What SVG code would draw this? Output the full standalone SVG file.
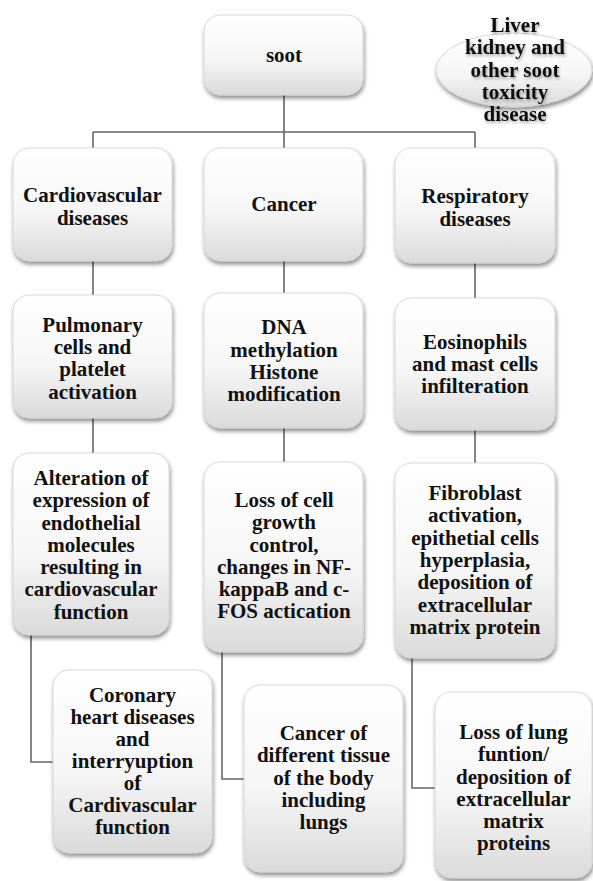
<svg xmlns="http://www.w3.org/2000/svg" width="593" height="881" viewBox="0 0 593 881">
<defs>
<linearGradient id="g" x1="0" y1="0" x2="0" y2="1">
<stop offset="0" stop-color="#ffffff"/>
<stop offset="0.55" stop-color="#f6f6f6"/>
<stop offset="1" stop-color="#dadada"/>
</linearGradient>
<filter id="sh" x="-10%" y="-10%" width="125%" height="130%">
<feDropShadow dx="1" dy="3" stdDeviation="2" flood-color="#000" flood-opacity="0.45"/>
</filter>
<filter id="tsh" x="-10%" y="-10%" width="120%" height="130%">
<feDropShadow dx="1" dy="2" stdDeviation="1.5" flood-color="#000" flood-opacity="0.35"/>
</filter>
</defs>
<style>
.box{fill:url(#g);stroke:#d2d2d2;stroke-width:0.8;filter:url(#sh)}
.t{font-family:"Liberation Serif","Times New Roman",serif;font-weight:bold;font-size:21px;fill:#111;text-anchor:middle}
.c{fill:none;stroke:#666;stroke-width:1.6}
</style>
<rect width="593" height="881" fill="#fff"/>
<g id="connectors">
<path class="c" d="M284 95V132M93 132H475M93 132V148M284 132V148M475 132V148"/>
<path class="c" d="M93 261V295M284 261V293M475 263V298"/>
<path class="c" d="M93 418V453M284 428V462M475 430V463"/>
<path class="c" d="M31 635V762H53M222 652V779H244M412 658V788H435"/>
</g>
<g id="soot">
<rect class="box" x="204" y="15" width="159" height="80" rx="16"/>
<text class="t" x="284" y="62">soot</text>
</g>
<g id="liver">
<ellipse class="box" cx="514" cy="70" rx="78" ry="37"/>
<text class="t" x="515" filter="url(#tsh)"><tspan x="515" y="32">Liver</tspan><tspan x="515" y="54">kidney and</tspan><tspan x="515" y="77">other soot</tspan><tspan x="515" y="99">toxicity</tspan><tspan x="515" y="121">disease</tspan></text>
</g>
<g id="cardio">
<rect class="box" x="13" y="148" width="159" height="113" rx="16"/>
<text class="t"><tspan x="92.5" y="202">Cardiovascular</tspan><tspan x="92.5" y="225">diseases</tspan></text>
</g>
<g id="cancer">
<rect class="box" x="204" y="148" width="159" height="113" rx="16"/>
<text class="t" x="284" y="211">Cancer</text>
</g>
<g id="resp">
<rect class="box" x="395" y="148" width="160" height="115" rx="16"/>
<text class="t"><tspan x="475" y="203">Respiratory</tspan><tspan x="475" y="226">diseases</tspan></text>
</g>
<g id="pulm">
<rect class="box" x="13" y="295" width="159" height="123" rx="16"/>
<text class="t"><tspan x="92.5" y="332">Pulmonary</tspan><tspan x="92.5" y="354">cells and</tspan><tspan x="92.5" y="376">platelet</tspan><tspan x="92.5" y="399">activation</tspan></text>
</g>
<g id="dna">
<rect class="box" x="204" y="293" width="159" height="135" rx="16"/>
<text class="t"><tspan x="284" y="334">DNA</tspan><tspan x="284" y="357">methylation</tspan><tspan x="284" y="379">Histone</tspan><tspan x="284" y="401">modification</tspan></text>
</g>
<g id="eos">
<rect class="box" x="395" y="298" width="160" height="132" rx="16"/>
<text class="t"><tspan x="475" y="349">Eosinophils</tspan><tspan x="475" y="371">and mast cells</tspan><tspan x="475" y="393">infilteration</tspan></text>
</g>
<g id="alteration">
<rect class="box" x="13" y="453" width="156" height="182" rx="16"/>
<text class="t"><tspan x="91" y="485">Alteration of</tspan><tspan x="91" y="507">expression of</tspan><tspan x="91" y="530">endothelial</tspan><tspan x="91" y="552">molecules</tspan><tspan x="91" y="574">resulting in</tspan><tspan x="91" y="596">cardiovascular</tspan><tspan x="91" y="619">function</tspan></text>
</g>
<g id="losscell">
<rect class="box" x="204" y="462" width="159" height="190" rx="16"/>
<text class="t"><tspan x="284" y="507">Loss of cell</tspan><tspan x="284" y="529">growth</tspan><tspan x="284" y="552">control,</tspan><tspan x="284" y="574">changes in NF-</tspan><tspan x="284" y="596">kappaB and c-</tspan><tspan x="284" y="618">FOS actication</tspan></text>
</g>
<g id="fibro">
<rect class="box" x="395" y="463" width="160" height="195" rx="16"/>
<text class="t"><tspan x="475" y="500">Fibroblast</tspan><tspan x="475" y="522">activation,</tspan><tspan x="475" y="545">epithetial cells</tspan><tspan x="475" y="567">hyperplasia,</tspan><tspan x="475" y="589">deposition of</tspan><tspan x="475" y="612">extracellular</tspan><tspan x="475" y="634">matrix protein</tspan></text>
</g>
<g id="coronary">
<rect class="box" x="53" y="670" width="159" height="183" rx="16"/>
<text class="t"><tspan x="132.5" y="702">Coronary</tspan><tspan x="132.5" y="724">heart diseases</tspan><tspan x="132.5" y="746">and</tspan><tspan x="132.5" y="768">interryuption</tspan><tspan x="132.5" y="790">of</tspan><tspan x="132.5" y="812">Cardivascular</tspan><tspan x="132.5" y="834">function</tspan></text>
</g>
<g id="cancerof">
<rect class="box" x="244" y="685" width="159" height="187" rx="16"/>
<text class="t"><tspan x="323.5" y="740">Cancer of</tspan><tspan x="323.5" y="762">different tissue</tspan><tspan x="323.5" y="785">of the body</tspan><tspan x="323.5" y="807">including</tspan><tspan x="323.5" y="829">lungs</tspan></text>
</g>
<g id="losslung">
<rect class="box" x="435" y="692" width="157" height="186" rx="16"/>
<text class="t"><tspan x="513.5" y="739">Loss of lung</tspan><tspan x="513.5" y="761">funtion/</tspan><tspan x="513.5" y="784">deposition of</tspan><tspan x="513.5" y="806">extracellular</tspan><tspan x="513.5" y="828">matrix</tspan><tspan x="513.5" y="850">proteins</tspan></text>
</g>
</svg>
